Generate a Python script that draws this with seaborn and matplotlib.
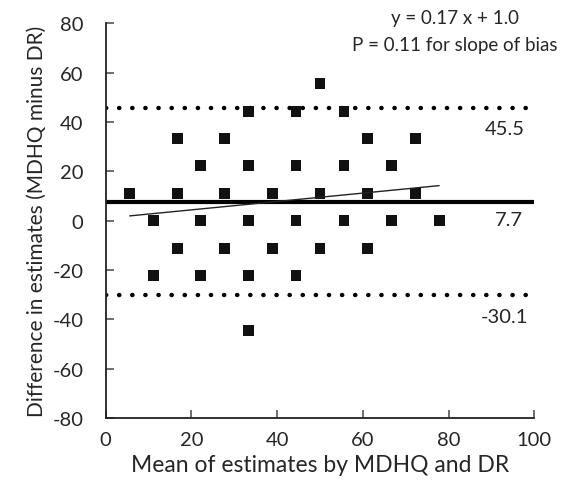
import matplotlib
matplotlib.use("Agg")
import matplotlib.pyplot as plt
import seaborn as sns
import pandas as pd
import numpy as np

# Bland-Altman data: mean of the two estimates vs. their difference
mean_est = [50.0,
            33.3, 44.4, 55.6,
            16.7, 27.8, 61.1, 72.2,
            22.2, 33.3, 44.4, 55.6, 66.7,
            5.6, 16.7, 27.8, 38.9, 50.0, 61.1, 72.2,
            11.1, 22.2, 33.3, 44.4, 55.6, 66.7, 77.8,
            16.7, 27.8, 38.9, 50.0, 61.1,
            11.1, 22.2, 33.3, 44.4,
            33.3]
diff_est = [55.6,
            44.4, 44.4, 44.4,
            33.3, 33.3, 33.3, 33.3,
            22.2, 22.2, 22.2, 22.2, 22.2,
            11.1, 11.1, 11.1, 11.1, 11.1, 11.1, 11.1,
            0.0, 0.0, 0.0, 0.0, 0.0, 0.0, 0.0,
            -11.1, -11.1, -11.1, -11.1, -11.1,
            -22.2, -22.2, -22.2, -22.2,
            -44.4]

mean_bias = 7.7
upper_loa = 45.5
lower_loa = -30.1
slope, intercept = 0.17, 1.0
fit_x = [5.6, 77.8]

x_ticks = [0, 20, 40, 60, 80, 100]
y_ticks = [-80, -60, -40, -20, 0, 20, 40, 60, 80]

sns.set_style("ticks")
plt.rcParams["font.family"] = ["Lato", "DejaVu Sans"]
plt.rcParams["axes.unicode_minus"] = False

df = pd.DataFrame({"mean": mean_est, "diff": diff_est})

fig = plt.figure(figsize=(5.63, 4.85), dpi=100)
ax = fig.add_axes([0.1877, 0.136, 0.7613, 0.8137])

# limits of agreement and mean bias
ax.plot([0, 100], [upper_loa, upper_loa], color="black", lw=3.2,
        linestyle=(0, (0.05, 2.9)), dash_capstyle="round", zorder=1)
ax.plot([0, 100], [lower_loa, lower_loa], color="black", lw=3.2,
        linestyle=(0, (0.05, 2.9)), dash_capstyle="round", zorder=1)
ax.plot([0, 100], [mean_bias, mean_bias], color="black", lw=3.0, zorder=1)

# regression of difference on mean
fx = np.array(fit_x)
ax.plot(fx, slope * fx + intercept, color="#222222", lw=1.0, zorder=3)

sns.scatterplot(data=df, x="mean", y="diff", marker="s", s=62,
                color="#111111", edgecolor="none", ax=ax, zorder=2)

ax.set_xlim(0, 100)
ax.set_ylim(-80, 80)
ax.set_xticks(x_ticks)
ax.set_yticks(y_ticks)
ax.tick_params(axis="both", direction="in", length=6, width=1.2,
               color="#555555", labelsize=14.5)
ax.tick_params(axis="y", pad=16)
ax.tick_params(axis="x", pad=9)
for side in ["top", "right"]:
    ax.spines[side].set_visible(False)
for side in ["left", "bottom"]:
    ax.spines[side].set_linewidth(1.3)
    ax.spines[side].set_color("#222222")

ax.set_xlabel("Mean of estimates by MDHQ and DR", fontsize=16.5, labelpad=5)
ax.set_ylabel("Difference in estimates (MDHQ minus DR)", fontsize=15, labelpad=4)

ax.text(93, 37.5, f"{upper_loa}", fontsize=14.5, ha="center", va="center")
ax.text(94, 0.3, f"{mean_bias}", fontsize=14.5, ha="center", va="center")
ax.text(93, -39, f"{lower_loa}", fontsize=14.5, ha="center", va="center")

ax.text(81.5, 82.5, f"y = {slope} x + {intercept}", fontsize=13.5,
        ha="center", va="center", clip_on=False)
ax.text(81.5, 71.3, "P = 0.11 for slope of bias", fontsize=13.5,
        ha="center", va="center", clip_on=False)

fig.savefig("out.png", dpi=100)
